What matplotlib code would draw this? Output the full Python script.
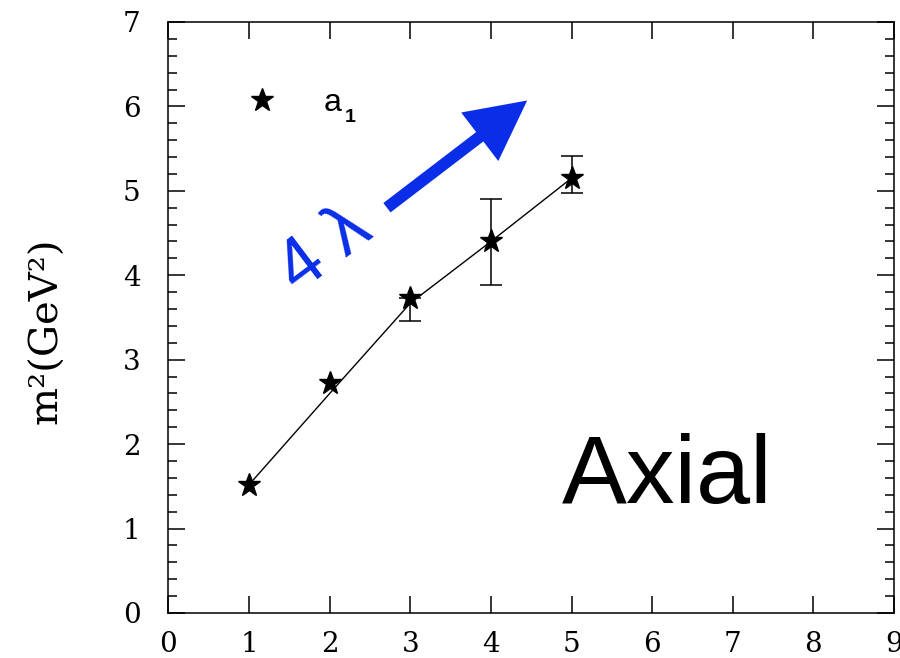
import matplotlib
matplotlib.use('Agg')
import matplotlib.pyplot as plt
from matplotlib.patches import FancyArrowPatch
from matplotlib.ticker import MultipleLocator

# radial excitations of the a1
n_level = [1, 2, 3, 4, 5]
m2_star = [1.52, 2.72, 3.73, 4.40, 5.15]
m2_fit = [1.52, 2.60, 3.67, 4.40, 5.15]

err_x = [3, 4, 5]
err_y = [3.73, 4.40, 5.15]
err_lo = [0.27, 0.51, 0.17]
err_hi = [0.0, 0.50, 0.26]

legend_pt = (1.16, 6.07)
arrow_from = (2.71, 4.80)
arrow_to = (4.45, 6.07)

blue = '#0a2ee8'

fig = plt.figure(figsize=(9, 6.58), dpi=100)
ax = fig.add_axes([0.1872, 0.0684, 0.8061, 0.8982])

ax.plot(n_level, m2_fit, 'k-', lw=1.0, zorder=2)
ax.errorbar(err_x, err_y, yerr=[err_lo, err_hi], fmt='none', ecolor='k',
            elinewidth=1.1, capsize=8, capthick=1.1, zorder=3)
ax.plot(n_level, m2_star, 'k*', ms=17, zorder=4)

# legend entry drawn by hand
ax.plot([legend_pt[0]], [legend_pt[1]], 'k*', ms=17)
ax.text(1.93, 5.94, 'a', fontsize=23, family='Liberation Sans', va='baseline')
ax.text(2.19, 5.81, '1', fontsize=14, family='Liberation Sans',
        va='baseline', weight='bold')

arr = FancyArrowPatch(arrow_from, arrow_to,
                      arrowstyle='simple,head_length=43,head_width=44,tail_width=8.5',
                      mutation_scale=1, color=blue, shrinkA=0, shrinkB=0, lw=0)
ax.add_patch(arr)
ax.text(1.95, 4.30, '4 \u03bb', color=blue, fontsize=52, rotation=37,
        family='Liberation Sans', ha='center', va='center',
        rotation_mode='anchor')

ax.text(4.88, 1.30, 'Axial', fontsize=70, family='Liberation Sans',
        ha='left', va='baseline')

ax.set_xlim(0, 9)
ax.set_ylim(0, 7)
ax.xaxis.set_major_locator(MultipleLocator(1))
ax.yaxis.set_major_locator(MultipleLocator(1))
ax.yaxis.set_minor_locator(MultipleLocator(0.2))
ax.tick_params(which='both', direction='in', top=True, right=True,
               width=1.1, labelsize=20)
ax.tick_params(which='major', length=12)
ax.tick_params(which='minor', length=6.5)
ax.tick_params(axis='x', pad=13)
ax.tick_params(axis='y', pad=20)
for lab in ax.get_xticklabels() + ax.get_yticklabels():
    lab.set_family('DejaVu Serif')
for sp in ax.spines.values():
    sp.set_linewidth(1.1)

fig.text(0.052, 0.498, 'm\u00b2(GeV\u00b2)', rotation=90, fontsize=29,
         family='DejaVu Serif', ha='center', va='center')

fig.savefig('out.png', dpi=100)
